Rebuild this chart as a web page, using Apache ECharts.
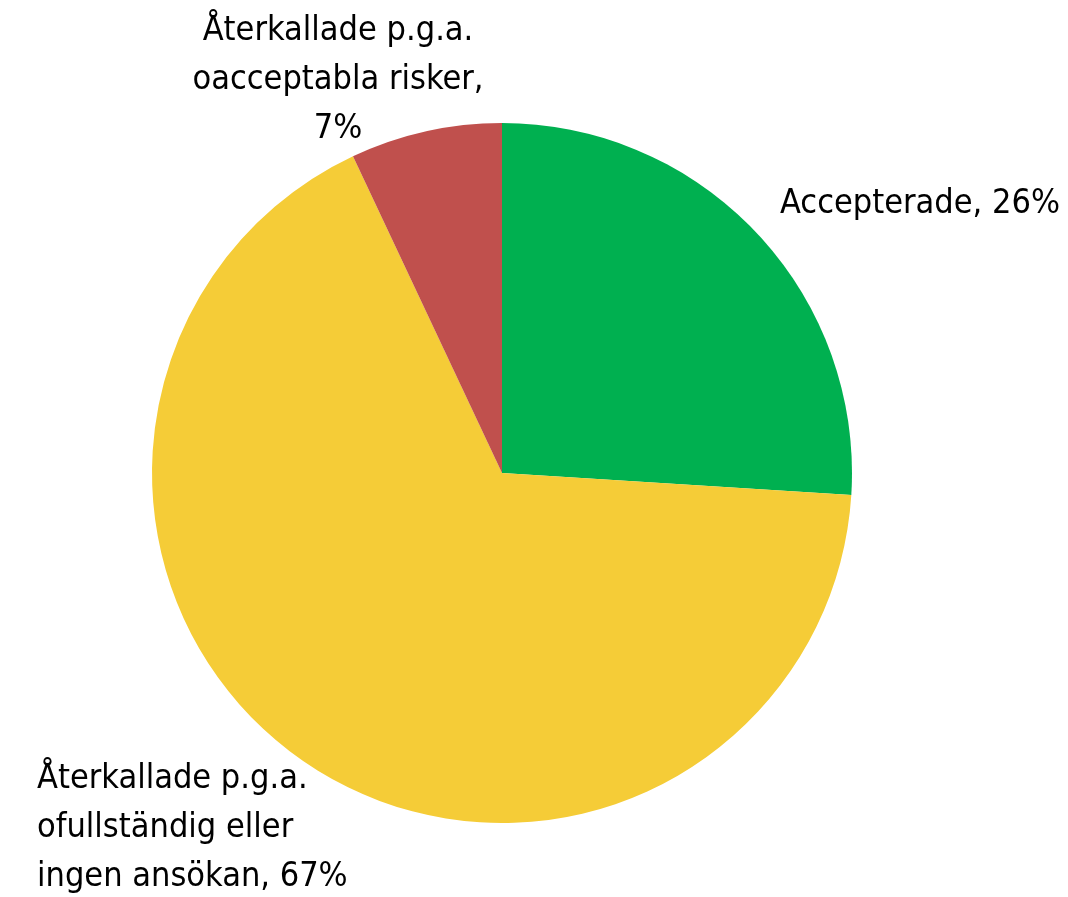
<!DOCTYPE html>
<html>
<head>
<meta charset="utf-8">
<script src="https://cdn.jsdelivr.net/npm/echarts@6/dist/echarts.min.js"></script>
<style>
  html, body { margin: 0; padding: 0; background: #fff; }
  #chart { width: 1068px; height: 897px; }
</style>
</head>
<body>
<div id="chart"></div>
<script>
// andelar (procent)
var categories = ['Accepterade', 'Återkallade p.g.a.\nofullständig eller\ningen ansökan', 'Återkallade p.g.a.\noacceptabla risker'];
var values = [26, 67, 7];
var colors = ['#00B050', '#F5CC37', '#C0504D'];
// var etikettplacering
var labelPos = [
    {x: 780, y: 204, align: 'left'},
    {x: 37, y: 828, align: 'left'},
    {x: 338, y: 80, align: 'center'}
];

var chart = echarts.init(document.getElementById('chart'));
var font = "'Liberation Sans Narrow', 'DejaVu Sans Condensed', sans-serif";

chart.setOption({
    animation: false,
    series: [{
        type: 'pie',
        center: [502, 473],
        radius: 350,
        startAngle: 90,
        clockwise: true,
        data: categories.map(function (c, i) {
            return {name: c, value: values[i], itemStyle: {color: colors[i]}};
        }),
        label: {
            show: true,
            overflow: 'none',
            formatter: function (p) {
                if (p.dataIndex === 1) return p.name + ', ' + p.value + '%';
                return p.name + ',' + (p.dataIndex === 0 ? ' ' : '\n') + p.value + '%';
            },
            color: '#000',
            fontFamily: font,
            fontSize: 34,
            lineHeight: 49
        },
        labelLine: {show: false},
        labelLayout: function (params) {
            var p = labelPos[params.dataIndex];
            return {x: p.x, y: p.y, align: p.align, verticalAlign: 'middle'};
        },
        emphasis: {disabled: true}
    }]
});
</script>
</body>
</html>
